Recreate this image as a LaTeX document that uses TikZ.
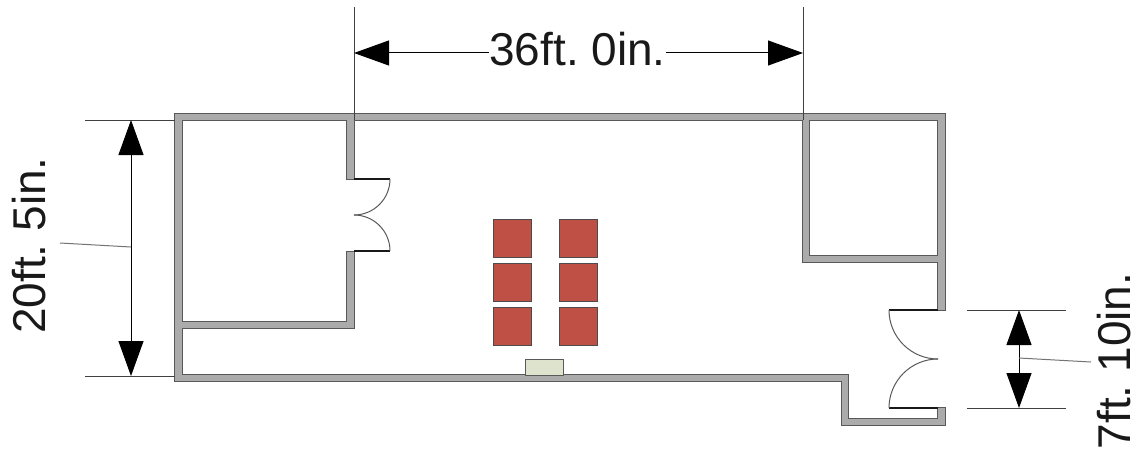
\documentclass[tikz,border=0pt]{standalone}
\usepackage{fontspec}
\setmainfont{Liberation Sans}
\usetikzlibrary{arrows.meta}
\tikzset{
  wallline/.style={draw=black!65,line width=1.4pt},
  wallfill/.style={fill=black!33},
  doorleaf/.style={draw=black!90,line width=1.2pt},
  doorarc/.style={draw=black!65,line width=1pt},
  seat/.style={draw=black!70,line width=1.2pt,fill=seatred,minimum width=38pt,minimum height=38pt,inner sep=0pt,anchor=north west},
  desk/.style={draw=black!65,line width=1.2pt,fill=deskcream,minimum width=38pt,minimum height=16pt,inner sep=0pt,anchor=north west},
  extline/.style={draw=black!75,line width=1pt},
  leader/.style={draw=black!55,line width=1pt},
  dimline/.style={draw=black,line width=1pt},
  bigtip/.style={{Triangle[length=35pt,width=25pt]}-{Triangle[length=35pt,width=25pt]}},
  righttip/.style={-{Triangle[length=35pt,width=25pt]}},
  dimtext/.style={inner sep=0pt,font=\fontsize{46pt}{46pt}\selectfont\frenchspacing,text=black!90}
}
\definecolor{seatred}{HTML}{BE5046}
\definecolor{deskcream}{HTML}{DDE3CC}
\newcommand{\wallshapes}[1]{%
  \path[#1] (175,114) rectangle (945,120);
  \path[#1] (175,114) rectangle (182,381);
  \path[#1] (175,375) rectangle (848,381);
  \path[#1] (842,375) rectangle (848,425);
  \path[#1] (842,419) rectangle (945,425);
  \path[#1] (938,408) rectangle (945,425);
  \path[#1] (938,114) rectangle (945,310);
  \path[#1] (803,114) rectangle (809,262);
  \path[#1] (803,256) rectangle (945,262);
  \path[#1] (347,114) rectangle (354,179);
  \path[#1] (347,252) rectangle (354,328);
  \path[#1] (175,322) rectangle (354,328);
}
\begin{document}
\begin{tikzpicture}[x=1pt,y=-1pt]
\useasboundingbox (0,0) rectangle (1139,452);
% walls
\wallshapes{wallline}
\wallshapes{wallfill}
% left doors
\coordinate (ldt) at (354,179); \coordinate (ldb) at (354,251);
\coordinate (ldto) at (390,179); \coordinate (ldbo) at (390,251);
\draw[doorleaf] (ldt) -- (ldto);
\draw[doorleaf] (ldb) -- (ldbo);
\draw[doorarc] (ldto) arc[start angle=0,end angle=90,x radius=36,y radius=36];
\draw[doorarc] (ldbo) arc[start angle=0,end angle=-90,x radius=36,y radius=36];
% right doors
\coordinate (rdt) at (938,310); \coordinate (rdb) at (938,408);
\coordinate (rdto) at (889,310); \coordinate (rdbo) at (889,408);
\draw[doorleaf] (rdt) -- (rdto);
\draw[doorleaf] (rdb) -- (rdbo);
\draw[doorarc] (rdto) arc[start angle=180,end angle=90,x radius=49,y radius=49];
\draw[doorarc] (rdbo) arc[start angle=180,end angle=270,x radius=49,y radius=49];
% seats
\node[seat] (s1) at (493,219) {};
\node[seat] (s2) at (559,219) {};
\node[seat] (s3) at (493,263) {};
\node[seat] (s4) at (559,263) {};
\node[seat] (s5) at (493,307) {};
\node[seat] (s6) at (559,307) {};
\node[desk] (d1) at (525,359) {};
% top dimension
\coordinate (ta) at (354,7); \coordinate (tb) at (354,120);
\coordinate (tc) at (803,7); \coordinate (td) at (803,120);
\coordinate (tl) at (354,53); \coordinate (tr) at (803,53);
\draw[extline] (ta) -- (tb);
\draw[extline] (tc) -- (td);
\node[dimtext] (toplabel) at (577.5,49.5) {36ft. 0in.};
\draw[dimline,righttip] (toplabel.west |- tl) -- (tl);
\draw[dimline,righttip] (toplabel.east |- tr) -- (tr);
% left dimension
\coordinate (la) at (85,120); \coordinate (lb) at (175,120);
\coordinate (lc) at (85,376); \coordinate (ld) at (175,376);
\coordinate (lt) at (131,120); \coordinate (lu) at (131,376); \coordinate (lm) at (131,247);
\draw[extline] (la) -- (lb);
\draw[extline] (lc) -- (ld);
\draw[dimline,bigtip] (lt) -- (lu);
\node[dimtext,rotate=90] (leftlabel) at (29,245.5) {20ft. 5in.};
\draw[leader] (60,243) -- (lm);
% right dimension
\coordinate (ra) at (967,310); \coordinate (rb) at (1066,310);
\coordinate (rc) at (967,408); \coordinate (rd) at (1066,408);
\coordinate (rt) at (1019,310); \coordinate (ru) at (1019,408); \coordinate (rm) at (1019,358);
\draw[extline] (ra) -- (rb);
\draw[extline] (rc) -- (rd);
\draw[dimline,bigtip] (rt) -- (ru);
\node[dimtext,rotate=90] (rightlabel) at (1114.5,361) {7ft. 10in.};
\draw[leader] (rm) -- (1091,362);
\end{tikzpicture}
\end{document}
